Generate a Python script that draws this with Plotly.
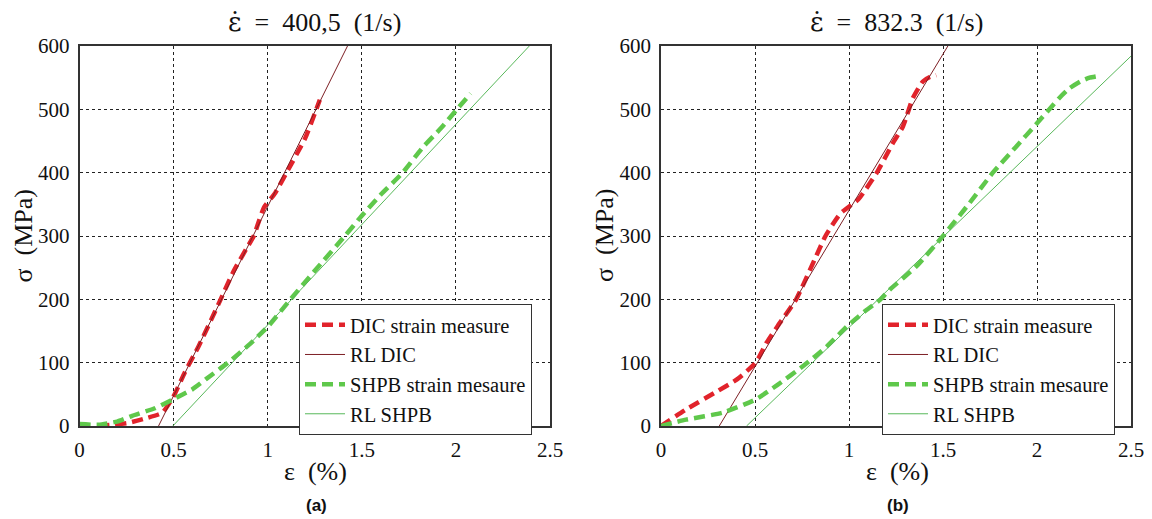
import plotly.graph_objects as go

# ---------------- data ----------------
strain_ticks = [0, 0.5, 1, 1.5, 2, 2.5]
stress_ticks = [0, 100, 200, 300, 400, 500, 600]
rates = ["400,5", "832.3"]
captions = ["(a)", "(b)"]
legend_names = ["DIC strain measure", "RL DIC", "SHPB strain mesaure", "RL SHPB"]

# panel (a)
dic_a_x = [0.10, 0.18, 0.26, 0.35, 0.44, 0.50, 0.56, 0.633, 0.70, 0.75, 0.82, 0.887, 0.926,
           0.955, 0.98, 1.04, 1.10, 1.20, 1.277]
dic_a_y = [0, 2, 5, 12, 21, 47, 85, 126, 168, 200, 245, 280, 300, 325, 345, 368, 400, 455, 515]
rl_dic_a_x = [0.42, 1.424]
rl_dic_a_y = [0, 600]
shpb_a_x = [0, 0.1, 0.2, 0.28, 0.4, 0.496, 0.6, 0.672, 0.789, 0.9, 1.004, 1.121, 1.25, 1.41,
            1.5, 1.6, 1.717, 1.824, 1.92, 2.0, 2.078]
shpb_a_y = [3, 2, 7, 16, 28, 42, 58, 74, 100, 128, 158, 200, 245, 300, 332, 365, 400, 440, 470,
            498, 525]
rl_shpb_a_x = [0.496, 2.39]
rl_shpb_a_y = [0, 600]

# panel (b)
dic_b_x = [0, 0.133, 0.289, 0.406, 0.504, 0.5625, 0.621, 0.719, 0.816, 0.875, 0.953, 1.05,
           1.148, 1.234, 1.287, 1.34, 1.393, 1.43, 1.464]
dic_b_y = [0, 26, 53, 74, 100, 132, 158, 200, 262, 300, 335, 358, 400, 447, 473, 518, 544, 551,
           554]
rl_dic_b_x = [0.31, 1.526]
rl_dic_b_y = [0, 600]
shpb_b_x = [0, 0.133, 0.328, 0.504, 0.62, 0.758, 0.88, 0.992, 1.08, 1.168, 1.216, 1.358, 1.5,
            1.641, 1.765, 1.889, 2.0, 2.066, 2.119, 2.172, 2.23, 2.28, 2.314]
shpb_b_y = [0, 10, 21, 42, 65, 95, 125, 158, 180, 200, 215, 252, 300, 352, 400, 441, 478, 500,
            518, 533, 544, 550, 552]
rl_shpb_b_x = [0.455, 2.5]
rl_shpb_b_y = [0, 584]

# ---------------- styling ----------------
RED = "#e1232b"
DARKRED = "#7d1f24"
GREEN = "#5fc84b"
LGREEN = "#58b85a"
SERIF = "Liberation Serif"
TXT = "#111111"

OFF = 8                      # page body margin offset in the browser
W, H = 1152 - OFF, 519 - OFF


def px(v):
    return v - OFF


panels = [
    dict(x0=79.5, x1=550, xa="x", ya="y", leg="legend",
         data=[(dic_a_x, dic_a_y), (rl_dic_a_x, rl_dic_a_y), (shpb_a_x, shpb_a_y),
               (rl_shpb_a_x, rl_shpb_a_y)]),
    dict(x0=661, x1=1131, xa="x2", ya="y2", leg="legend2",
         data=[(dic_b_x, dic_b_y), (rl_dic_b_x, rl_dic_b_y), (shpb_b_x, shpb_b_y),
               (rl_shpb_b_x, rl_shpb_b_y)]),
]
legend_left = [299, 882]
y_top, y_bot = 46, 426
styles = [
    dict(color=RED, width=4.5, dash="11px,6px", shape="spline", smoothing=0.5),
    dict(color=DARKRED, width=1),
    dict(color=GREEN, width=4.5, dash="11px,6px", shape="spline", smoothing=0.5),
    dict(color=LGREEN, width=1),
]

fig = go.Figure()
for p in panels:
    for (xs, ys), st, nm in zip(p["data"], styles, legend_names):
        fig.add_trace(go.Scatter(x=xs, y=ys, mode="lines", name=nm, line=st,
                                 xaxis=p["xa"], yaxis=p["ya"], legend=p["leg"]))

axis_common = dict(showline=True, mirror=True, linecolor="#333333", linewidth=1.5,
                   showgrid=True, gridcolor="#222222", gridwidth=1, griddash="3px,3px",
                   zeroline=False, ticks="", automargin=False, ticklabelstandoff=4,
                   tickfont=dict(family=SERIF, size=21, color=TXT))
layout = dict(width=W, height=H, margin=dict(l=0, r=0, t=0, b=0, autoexpand=False),
              paper_bgcolor="white", plot_bgcolor="white", showlegend=True,
              font=dict(family=SERIF, color=TXT))
annotations = []


def ann(text, xpx, ypx, size, family=SERIF, angle=0):
    return dict(text=text, x=px(xpx) / W, y=1 - px(ypx) / H, xref="paper", yref="paper",
                xanchor="center", yanchor="middle", showarrow=False, textangle=angle,
                font=dict(family=family, size=size, color=TXT))


for i, p in enumerate(panels):
    sfx = "" if i == 0 else "2"
    layout["xaxis" + sfx] = dict(axis_common, domain=[px(p["x0"]) / W, px(p["x1"]) / W],
                                 range=[0, 2.5], tickvals=strain_ticks,
                                 ticktext=[f"{v:g}" for v in strain_ticks],
                                 anchor="y" + sfx)
    layout["yaxis" + sfx] = dict(axis_common,
                                 domain=[1 - px(y_bot) / H, 1 - px(y_top) / H],
                                 range=[0, 600], tickvals=stress_ticks,
                                 anchor="x" + sfx)
    layout["legend" + sfx] = dict(x=px(legend_left[i]) / W, y=1 - px(304) / H,
                                  xanchor="left", yanchor="top", bgcolor="white",
                                  bordercolor="#333333", borderwidth=1,
                                  font=dict(family=SERIF, size=20.5, color=TXT),
                                  tracegroupgap=0, itemwidth=40)
    cx = (p["x0"] + p["x1"]) / 2
    title = ('<span style="font-family:DejaVu Serif">ε̇</span>\u2002=\u2002' + rates[i]
             + "\u2002(1/s)")
    annotations.append(ann(title, cx, 22, 26))
    annotations.append(ann("ε\u2002(%)", cx + 1, 471, 26))
    annotations.append(ann("σ\u2002(MPa)", p["x0"] - 57, 236, 26, angle=-90))
    annotations.append(ann("<b>" + captions[i] + "</b>", cx + 2, 505, 17,
                           family="Liberation Sans"))
layout["annotations"] = annotations
fig.update_layout(**layout)
fig.write_html("out.html")
